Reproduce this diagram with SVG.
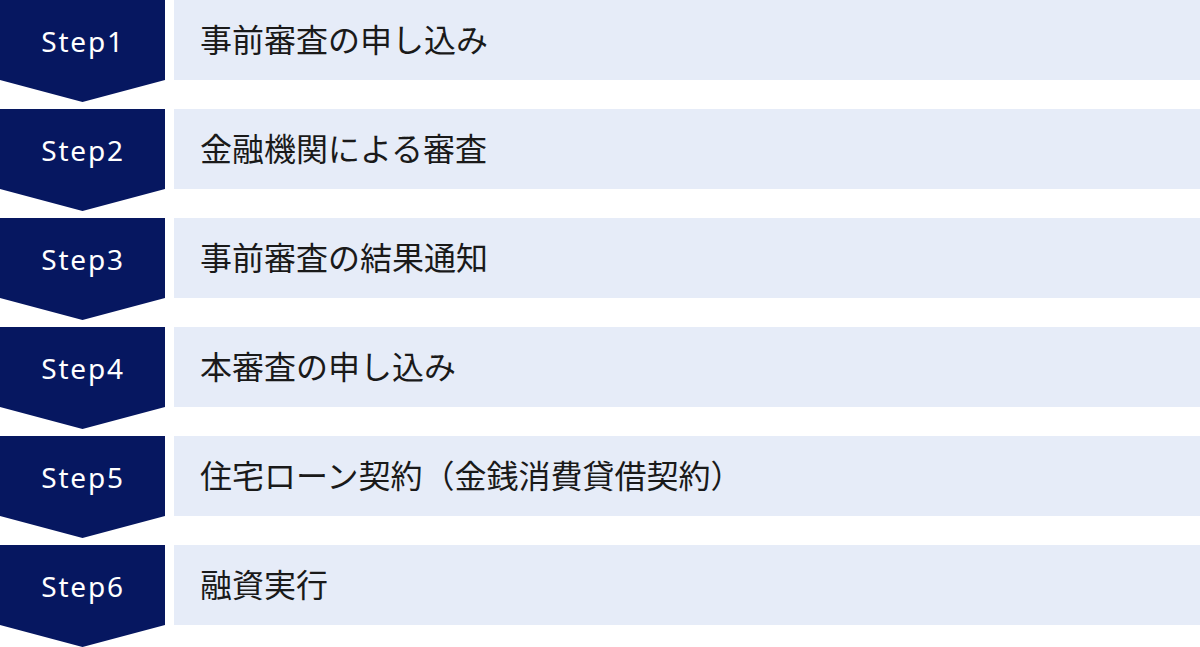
<svg xmlns="http://www.w3.org/2000/svg" width="1200" height="647" viewBox="0 0 1200 647">
<defs>
<style>
.chev{fill:#061760}
.box{fill:#E6ECF8}
.step{font-family:"Noto Sans","DejaVu Sans",sans-serif;font-size:28px;fill:#ffffff;text-anchor:middle;letter-spacing:1.8px}
.lbl{font-family:"Noto Sans CJK JP","Noto Sans",sans-serif;font-size:32px;fill:#1a1a1a}
</style>
<path id="chevShape" d="M0 0H165V80L82.5 102L0 80Z"/>
</defs>
<rect width="1200" height="647" fill="#ffffff"/>
<g id="connectors"></g>
<g id="step1" transform="translate(0,0)">
<use href="#chevShape" class="chev"/>
<rect class="box" x="174" y="0" width="1026" height="80"/>
<text class="step" x="83" y="52">Step1</text>
<text class="lbl" x="200" y="52">事前審査の申し込み</text>
</g>
<g id="step2" transform="translate(0,109)">
<use href="#chevShape" class="chev"/>
<rect class="box" x="174" y="0" width="1026" height="80"/>
<text class="step" x="83" y="52">Step2</text>
<text class="lbl" x="200" y="52">金融機関による審査</text>
</g>
<g id="step3" transform="translate(0,218)">
<use href="#chevShape" class="chev"/>
<rect class="box" x="174" y="0" width="1026" height="80"/>
<text class="step" x="83" y="52">Step3</text>
<text class="lbl" x="200" y="52">事前審査の結果通知</text>
</g>
<g id="step4" transform="translate(0,327)">
<use href="#chevShape" class="chev"/>
<rect class="box" x="174" y="0" width="1026" height="80"/>
<text class="step" x="83" y="52">Step4</text>
<text class="lbl" x="200" y="52">本審査の申し込み</text>
</g>
<g id="step5" transform="translate(0,436)">
<use href="#chevShape" class="chev"/>
<rect class="box" x="174" y="0" width="1026" height="80"/>
<text class="step" x="83" y="52">Step5</text>
<text class="lbl" x="200" y="52">住宅ローン契約（金銭消費貸借契約）</text>
</g>
<g id="step6" transform="translate(0,545)">
<use href="#chevShape" class="chev"/>
<rect class="box" x="174" y="0" width="1026" height="80"/>
<text class="step" x="83" y="52">Step6</text>
<text class="lbl" x="200" y="52">融資実行</text>
</g>
</svg>
